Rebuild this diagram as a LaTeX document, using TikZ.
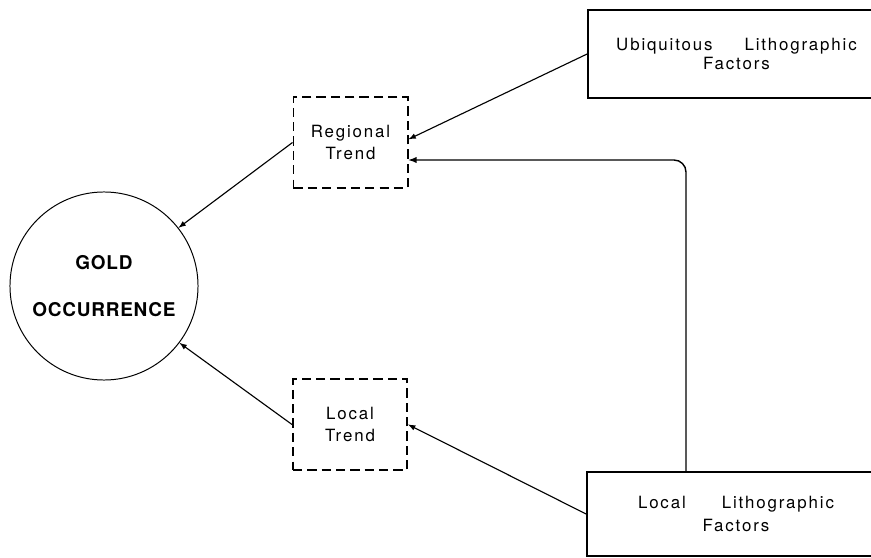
\documentclass[tikz,border=0pt]{standalone}
\usepackage{fontspec}
\setmainfont{TeX Gyre Heros}
\newfontfamily\boxfont[LetterSpace=11]{TeX Gyre Heros}
\newfontfamily\goldfont[LetterSpace=4]{TeX Gyre Heros}
\begin{document}
\begin{tikzpicture}[x = 0.025cm, y = -0.025cm, >=latex,
		factor/.style = {draw, rectangle, line width = 1.2pt, inner sep = 0pt, align = center, font = \boxfont\fontsize{12}{14}\selectfont},
		trend/.style = {draw, rectangle, dash pattern = on 6.6pt off 3.6pt, line width = 1.4pt, minimum width = 2.85cm, minimum height = 2.275cm, inner sep = 0pt, align = center, font = \boxfont\fontsize{12}{14}\selectfont}]
				\tikzstyle{link}=[->, line width = 0.8pt]
				\useasboundingbox (0,0) rectangle (871,558);
				\node (gold) at (104,286) [draw, circle, line width = 0.7pt, minimum size = 4.7cm, inner sep = 0pt, align = center, font = \goldfont\bfseries\fontsize{13.5}{16}\selectfont] {GOLD\\[18pt]OCCURRENCE};
				\node (regional) at (350.5,142.5) [trend] {Regional\\[2pt]Trend};
				\node (localtrend) at (350,424.5) [trend] {Local\\[2pt]Trend};
				\node (ubiq) at (736.5,54) [factor, minimum width = 7.425cm, minimum height = 2.2cm] {Ubiquitous\hspace{0.8cm}Lithographic\\Factors};
				\node (locallith) at (736,514) [factor, minimum width = 7.45cm, minimum height = 2.1cm] {Local\hspace{0.9cm}Lithographic\\[2pt]Factors};
				\coordinate (bend) at (686,160);
				\draw[link] (ubiq.west) -- ([yshift = 0.08cm] regional.east);
				\draw[link, line width = 1pt, rounded corners = 0.3cm] (bend |- locallith.north) -- (bend) -- (bend -| regional.east);
				\draw[link] (locallith.west) -- (localtrend.east);
				\draw[link] (regional.west) -- (gold.38);
				\draw[link] (localtrend.west) -- (gold.-37);
				\end{tikzpicture}
\end{document}
